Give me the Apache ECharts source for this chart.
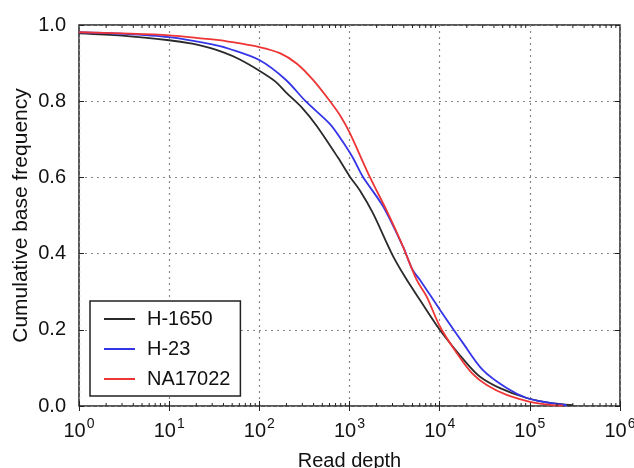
<!DOCTYPE html>
<html>
<head>
<meta charset="utf-8">
<script src="https://cdn.jsdelivr.net/npm/echarts@6/dist/echarts.min.js"></script>
<style>html,body{margin:0;padding:0;background:#fff}#c{width:634px;height:468px}</style>
</head>
<body>
<div id="c"></div>
<script>
const seriesNames = ['H-1650', 'H-23', 'NA17022'];
const blackDepth = [1, 3, 10, 18, 25, 40, 60, 100, 150, 200, 300, 433, 745, 1010, 1310, 1820, 2940, 4120, 6050, 10100, 20000, 28000, 46700, 92300, 167000, 300000];
const blackFreq  = [0.978, 0.972, 0.960, 0.951, 0.943, 0.928, 0.910, 0.880, 0.852, 0.822, 0.782, 0.735, 0.652, 0.602, 0.565, 0.506, 0.400, 0.339, 0.278, 0.199, 0.112, 0.077, 0.047, 0.021, 0.008, 0.002];
const blueDepth = [1, 3, 10, 30, 47, 100, 195, 326, 608, 818, 1094, 1413, 2355, 3926, 5012, 6053, 10100, 18160, 30200, 55340, 92300, 167000, 257000];
const blueFreq  = [0.981, 0.977, 0.968, 0.949, 0.937, 0.908, 0.857, 0.800, 0.740, 0.698, 0.651, 0.601, 0.524, 0.418, 0.357, 0.331, 0.252, 0.165, 0.094, 0.047, 0.021, 0.008, 0.002];
const redDepth = [1, 3, 10, 30, 47, 100, 169, 259, 394, 608, 800, 1010, 1690, 2570, 3784, 5560, 7180, 10100, 15450, 22650, 33270, 55340, 100500, 167000, 234000];
const redFreq  = [0.981, 0.978, 0.973, 0.962, 0.956, 0.942, 0.926, 0.899, 0.856, 0.800, 0.760, 0.716, 0.600, 0.514, 0.427, 0.331, 0.287, 0.208, 0.139, 0.087, 0.055, 0.029, 0.011, 0.003, 0.001];
const yTicks = [0, 0.2, 0.4, 0.6, 0.8, 1.0];
const xMin = 1, xMax = 1e6;

function zip(a, b) { return a.map((v, i) => [v, b[i]]); }
// minor tick positions (2..9 x 10^k) for the log axis
const minorTicks = [];
for (let k = 0; k < 6; k++) for (let m = 2; m <= 9; m++) minorTicks.push([m * Math.pow(10, k), 0]);

const FONT = 'Liberation Sans, Arial, Helvetica, sans-serif';
const chart = echarts.init(document.getElementById('c'), null, {renderer: 'canvas'});
const lineW = 1.8;
const SM = 0.3;
chart.setOption({
  animation: false,
  backgroundColor: '#fff',
  textStyle: {fontFamily: FONT},
  grid: {left: 79, right: 14, top: 25, bottom: 62, show: true, borderColor: '#222', borderWidth: 1.5, backgroundColor: 'transparent', outerBoundsMode: 'none', containLabel: false},
  legend: {
    data: seriesNames,
    orient: 'vertical',
    left: 90, top: 301,
    icon: 'rect',
    itemWidth: 31, itemHeight: 2, itemGap: 10,
    padding: [8, 10, 7, 14],
    borderColor: '#222', borderWidth: 1.5, backgroundColor: '#fff',
    textStyle: {fontSize: 20, lineHeight: 20, color: '#111', fontFamily: FONT, padding: [0, 0, 0, 7]},
    z: 10
  },
  xAxis: [{
    type: 'log', logBase: 10, min: xMin, max: xMax, splitNumber: 6,
    name: 'Read depth', nameLocation: 'middle', nameGap: 45, nameMoveOverlap: false,
    nameTextStyle: {fontSize: 20, color: '#111', fontFamily: FONT},
    axisLine: {show: false},
    axisTick: {show: true, inside: true, length: 5, lineStyle: {color: '#222', width: 1}},
    splitLine: {show: true, lineStyle: {type: [2, 4], color: '#888', width: 1.2}},
    axisLabel: {
      margin: 11, color: '#111',
      formatter: function (v) { const e = Math.round(Math.log10(v)); return '{b|10}{s|' + e + '}'; },
      rich: {b: {fontSize: 20, fontFamily: FONT, color: '#111', verticalAlign: 'bottom', lineHeight: 24}, s: {fontSize: 14, fontFamily: FONT, color: '#111', verticalAlign: 'top', lineHeight: 24, padding: [0, 0, 14, 1]}}
    }
  }, {
    type: 'log', logBase: 10, min: xMin, max: xMax, splitNumber: 6, position: 'top',
    axisLine: {show: false}, axisLabel: {show: false}, splitLine: {show: false},
    axisTick: {show: true, inside: true, length: 5, lineStyle: {color: '#222', width: 1}}
  }],
  yAxis: [{
    type: 'value', min: 0, max: 1, interval: 0.2,
    name: 'Cumulative base frequency', nameLocation: 'middle', nameGap: 47, nameMoveOverlap: false,
    nameTextStyle: {fontSize: 21, color: '#111', fontFamily: FONT},
    axisLine: {show: false},
    axisTick: {show: true, inside: true, length: 5, lineStyle: {color: '#222', width: 1}},
    splitLine: {show: true, lineStyle: {type: [2, 4], color: '#888', width: 1.2}},
    axisLabel: {margin: 13, fontSize: 20, color: '#111', fontFamily: FONT, formatter: v => v.toFixed(1)}
  }, {
    type: 'value', min: 0, max: 1, interval: 0.2, position: 'right',
    axisLine: {show: false}, axisLabel: {show: false}, splitLine: {show: false},
    axisTick: {show: true, inside: true, length: 5, lineStyle: {color: '#222', width: 1}}
  }],
  series: [
    {name: 'H-1650', type: 'line', data: zip(blackDepth, blackFreq), symbol: 'none', smooth: SM, lineStyle: {color: '#2a2a2a', width: lineW}, itemStyle: {color: '#2a2a2a'}, z: 3},
    {name: 'H-23', type: 'line', data: zip(blueDepth, blueFreq), symbol: 'none', smooth: SM, lineStyle: {color: '#3535e8', width: lineW}, itemStyle: {color: '#3535e8'}, z: 3},
    {name: 'NA17022', type: 'line', data: zip(redDepth, redFreq), symbol: 'none', smooth: SM, lineStyle: {color: '#ee3535', width: lineW}, itemStyle: {color: '#ee3535'}, z: 4},
    {name: 'minor', type: 'custom', data: minorTicks, silent: true, z: 5,
      renderItem: function (params, api) {
        const v = api.value(0);
        const b = api.coord([v, 0]), t = api.coord([v, 1]);
        const st = {stroke: '#222', lineWidth: 1};
        return {type: 'group', children: [
          {type: 'line', shape: {x1: b[0], y1: b[1], x2: b[0], y2: b[1] - 3}, style: st},
          {type: 'line', shape: {x1: t[0], y1: t[1], x2: t[0], y2: t[1] + 3}, style: st}
        ]};
      }}
  ]
});
</script>
</body>
</html>
